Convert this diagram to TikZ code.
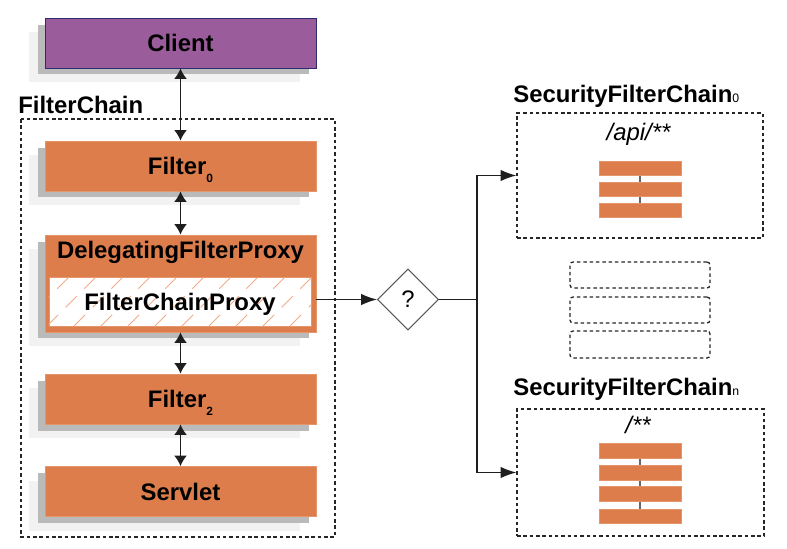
\documentclass[tikz,border=0pt]{standalone}
\usepackage{fontspec}
\setmainfont{Liberation Sans}
\usetikzlibrary{arrows.meta,shapes.geometric,shadows}
\definecolor{orng}{HTML}{DD7D4C}
\definecolor{orngb}{HTML}{E5956A}
\definecolor{hatchc}{HTML}{F0AC86}
\definecolor{purp}{HTML}{9A5C9A}
\definecolor{navy}{HTML}{2E2A6E}
\definecolor{lnc}{HTML}{1E1E1E}
\newcommand{\mysubl}[1]{\raisebox{-4.5pt}{\fontsize{6.8}{7}\selectfont #1}}
\newcommand{\mysubb}[1]{{\fontsize{7}{7}\selectfont\mdseries #1}}
\begin{document}
\begin{tikzpicture}[x=0.02cm,y=-0.02cm,
  bigfont/.style={font=\fontsize{13.6}{16}\selectfont\bfseries},
  shd/.style={drop shadow={shadow xshift=-0.32cm,shadow yshift=-0.28cm,fill=black!5,opacity=1},
              drop shadow={shadow xshift=-0.14cm,shadow yshift=-0.13cm,fill=black!27,opacity=1}},
  box/.style={rectangle,minimum width=5.42cm,minimum height=1cm,inner sep=0pt,
              bigfont,text height=9.75pt,text depth=0pt,shd,line width=0.5pt},
  obox/.style={box,fill=orng,draw=orngb},
  lbl/.style={bigfont,inner sep=0pt},
  dashbox/.style={draw=black!85,line width=0.75pt,dash pattern=on 2pt off 1.6pt},
  bar/.style={rectangle,fill=orng,draw=orngb,line width=0.4pt,minimum width=1.64cm,minimum height=0.29cm,inner sep=0pt},
  barlink/.style={draw=black!60,line width=0.6pt},
  varr/.style={draw=lnc,line width=0.85pt,{Latex[length=6pt,width=7.4pt]}-{Latex[length=6pt,width=7.4pt]}},
  harr/.style={draw=lnc,line width=0.7pt,-{Latex[length=9pt,width=6.5pt]}},
  hatch/.style={draw=hatchc,line width=0.55pt,dash pattern=on 9pt off 6pt}
]
\useasboundingbox (0,0) rectangle (787,548);

% FilterChain container
\node[lbl,anchor=base west] (fclabel) at (18,113) {FilterChain};
\draw[dashbox] (21,119) rectangle (335,537);

% left column boxes
\node[box,fill=purp,draw=navy] (client) at (180.5,43) {Client};
\node[obox] (f0) at (180.5,166) {Filter\mysubl{0}};
\node[obox,minimum height=1.94cm] (dfp) at (180.5,283.5) {};
\node[lbl,anchor=base] (dfpt) at (180.5,258) {DelegatingFilterProxy};
\node[rectangle,fill=white,draw=orngb,line width=0.5pt,minimum width=5.24cm,minimum height=0.98cm,inner sep=0pt] (fcp) at (180,301.5) {};
\begin{scope}
  \clip (fcp.south west) rectangle (fcp.north east);
  \foreach \x in {20,47,...,340} \draw[hatch] (\x,326) -- ++(49,-49);
\end{scope}
\node[lbl,anchor=base] (fcpt) at (180,310) {FilterChainProxy};
\node[obox] (f2) at (180.5,399) {Filter\mysubl{2}};
\node[obox] (servlet) at (180.5,491.5) {Servlet};

% vertical arrows
\draw[varr] (client.south) -- (f0.north);
\draw[varr] (f0.south) -- (dfp.north);
\draw[varr] (dfp.south) -- (f2.north);
\draw[varr] (f2.south) -- (servlet.north);

% decision
\node[diamond,draw=black!65,line width=0.6pt,minimum width=1.22cm,minimum height=1.22cm,inner sep=0pt,
      font=\fontsize{13.6}{16}\selectfont] (dia) at (408,299.5) {?};
\coordinate (j) at (477,299.5);
\draw[harr] (dia.west -| dfp.east) -- (dia.west);
\draw[draw=lnc,line width=0.7pt] (dia.east) -- (j);

% SecurityFilterChain 0
\node[lbl,anchor=base west] (s0label) at (513,102) {SecurityFilterChain\mysubb{0}};
\node[dashbox,rectangle,minimum width=4.92cm,minimum height=2.5cm,inner sep=0pt] (sfc0) at (640,175.5) {};
\node[font=\fontsize{13.6}{16}\selectfont\itshape,anchor=base,inner sep=0pt] (s0pat) at (638.5,140) {/api/**};
\node[bar] (b01) at (640,168.5) {};
\node[bar] (b02) at (640,189.5) {};
\node[bar] (b03) at (640,210.5) {};
\draw[barlink] (b01.south) -- (b02.north);
\draw[barlink] (b02.south) -- (b03.north);

% placeholder chains
\node[dashbox,rectangle,rounded corners=0.06cm,minimum width=2.8cm,minimum height=0.52cm,inner sep=0pt] (p1) at (640,275) {};
\node[dashbox,rectangle,rounded corners=0.06cm,minimum width=2.8cm,minimum height=0.52cm,inner sep=0pt] (p2) at (640,310) {};
\node[dashbox,rectangle,rounded corners=0.06cm,minimum width=2.8cm,minimum height=0.54cm,inner sep=0pt] (p3) at (640,344.5) {};

% SecurityFilterChain n
\node[lbl,anchor=base west] (snlabel) at (513,395) {SecurityFilterChain\mysubb{n}};
\node[dashbox,rectangle,minimum width=4.94cm,minimum height=2.54cm,inner sep=0pt] (sfcn) at (640.5,472.5) {};
\node[font=\fontsize{13.6}{16}\selectfont\itshape,anchor=base,inner sep=0pt] (snpat) at (638,433) {/**};
\node[bar] (bn1) at (640,451) {};
\node[bar] (bn2) at (640,473) {};
\node[bar] (bn3) at (640,494) {};
\node[bar] (bn4) at (640,516.5) {};
\draw[barlink] (bn1.south) -- (bn2.north);
\draw[barlink] (bn2.south) -- (bn3.north);
\draw[barlink] (bn3.south) -- (bn4.north);

% routing arrows
\draw[harr] (j) |- (sfc0.west);
\draw[harr] (j) |- (sfcn.west);
\end{tikzpicture}
\end{document}
